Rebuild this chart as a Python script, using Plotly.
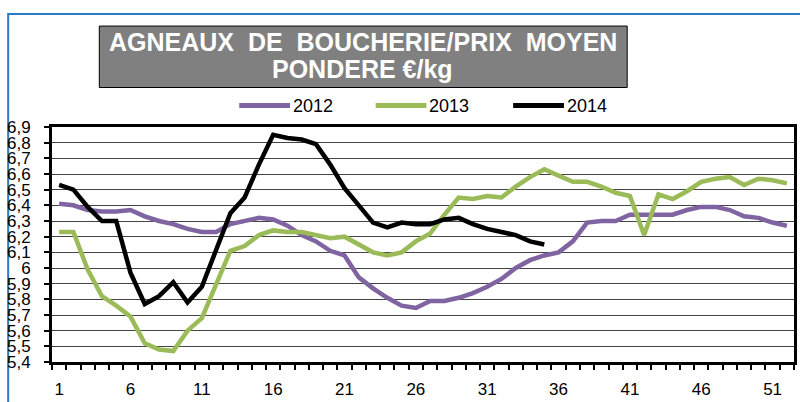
import plotly.graph_objects as go

weeks = list(range(1, 53))
p2012 = [6.41, 6.40, 6.37, 6.36, 6.36, 6.37, 6.33, 6.30, 6.28, 6.25, 6.23, 6.23, 6.28, 6.30, 6.32,
         6.31, 6.27, 6.21, 6.17, 6.11, 6.08, 5.94, 5.87, 5.81, 5.76, 5.745, 5.79, 5.79, 5.81, 5.84,
         5.88, 5.93, 6.00, 6.05, 6.08, 6.10, 6.17, 6.29, 6.30, 6.30, 6.34, 6.34, 6.34, 6.34, 6.37,
         6.39, 6.39, 6.37, 6.33, 6.32, 6.29, 6.27]
p2013 = [6.23, 6.23, 5.99, 5.82, 5.76, 5.69, 5.52, 5.48, 5.47, 5.60, 5.68, 5.89, 6.11, 6.14, 6.21,
         6.24, 6.23, 6.23, 6.21, 6.19, 6.20, 6.15, 6.10, 6.08, 6.10, 6.17, 6.22, 6.34, 6.45, 6.44,
         6.46, 6.45, 6.52, 6.58, 6.63, 6.59, 6.55, 6.55, 6.52, 6.48, 6.46, 6.21, 6.47, 6.44, 6.49,
         6.55, 6.57, 6.58, 6.53, 6.57, 6.56, 6.54]
p2014 = [6.53, 6.50, 6.39, 6.30, 6.30, 5.97, 5.77, 5.82, 5.91, 5.78, 5.88, 6.11, 6.35, 6.45, 6.66,
         6.85, 6.83, 6.82, 6.79, 6.66, 6.51, 6.40, 6.29, 6.26, 6.29, 6.28, 6.28, 6.31, 6.32, 6.28,
         6.25, 6.23, 6.21, 6.17, 6.15]
series_names = ["2012", "2013", "2014"]
series_colors = ["#8064A2", "#9BBB59", "#000000"]
y_ticks = [5.4 + 0.1 * i for i in range(16)]
y_ticktext = [("%.1f" % v).replace(".", ",").replace(",0", "") for v in y_ticks]
x_label_weeks = [1, 6, 11, 16, 21, 26, 31, 36, 41, 46, 51]
title_lines = ["AGNEAUX\u00a0 DE\u00a0 BOUCHERIE/PRIX\u00a0 MOYEN", "PONDERE €/kg"]

W, H = 800, 402
ML, MR, MT, MB = 52, 3, 127, 34
PW, PH = W - ML - MR, H - MT - MB


def px(x):
    return (x - ML) / PW


def py(y):
    return (H - MB - y) / PH


FONT = "Liberation Sans, Arial, sans-serif"

fig = go.Figure()
for name, vals, col in zip(series_names, [p2012, p2013, p2014], series_colors):
    fig.add_trace(go.Scatter(x=weeks[:len(vals)], y=vals, mode="lines", name=name,
                             line=dict(color=col, width=4.5), showlegend=False))

shapes = []
annotations = []
# outer blue frame
shapes.append(dict(type="rect", xref="paper", yref="paper", x0=px(8), x1=px(830), y0=py(430), y1=py(11),
                   line=dict(color="#2A7BC8", width=2), fillcolor="rgba(0,0,0,0)", layer="below"))
# title box
shapes.append(dict(type="rect", xref="paper", yref="paper", x0=px(99.5), x1=px(629.5), y0=py(86.5), y1=py(23.5),
                   line=dict(color="#000000", width=1), fillcolor="#808080"))
annotations.append(dict(xref="paper", yref="paper", x=px(364), y=py(40), text="<b>%s</b>" % title_lines[0],
                        showarrow=False, xanchor="center", yanchor="middle",
                        font=dict(family=FONT, size=25, color="white")))
annotations.append(dict(xref="paper", yref="paper", x=px(364), y=py(67.5), text="<b>%s</b>" % title_lines[1],
                        showarrow=False, xanchor="center", yanchor="middle",
                        font=dict(family=FONT, size=25, color="white")))
# legend
leg_x = [240, 377, 515]
for name, col, lx in zip(series_names, series_colors, leg_x):
    shapes.append(dict(type="line", xref="paper", yref="paper", x0=px(lx), x1=px(lx + 51), y0=py(105), y1=py(105),
                       line=dict(color=col, width=5)))
    annotations.append(dict(xref="paper", yref="paper", x=px(lx + 52), y=py(105), text=name, showarrow=False,
                            xanchor="left", yanchor="middle", font=dict(family=FONT, size=18, color="black")))

fig.update_layout(
    width=W, height=H,
    margin=dict(l=ML, r=MR, t=MT, b=MB, pad=0),
    paper_bgcolor="white", plot_bgcolor="white",
    shapes=shapes, annotations=annotations,
    showlegend=False,
    xaxis=dict(range=[0.5, 52.5], tickmode="array", tickvals=x_label_weeks,
               ticktext=[str(v) for v in x_label_weeks], ticks="", showgrid=False, zeroline=False,
               showline=True, linecolor="black", linewidth=3, mirror=True,
               tickfont=dict(family=FONT, size=17, color="black"), ticklabelstandoff=10,
               minor=dict(tickmode="array", tickvals=[k + 0.5 for k in range(53)], ticks="outside",
                          ticklen=5, tickwidth=2, tickcolor="black", showgrid=False)),
    yaxis=dict(range=[5.4, 6.9], tickmode="array", tickvals=y_ticks, ticktext=y_ticktext,
               ticks="outside", ticklen=5, tickwidth=2, tickcolor="black",
               showgrid=True, gridcolor="#444444", gridwidth=1, zeroline=False,
               showline=True, linecolor="black", linewidth=3, mirror=True,
               tickfont=dict(family=FONT, size=17, color="black"), ticklabelstandoff=10),
)

fig.write_html("out.html")
